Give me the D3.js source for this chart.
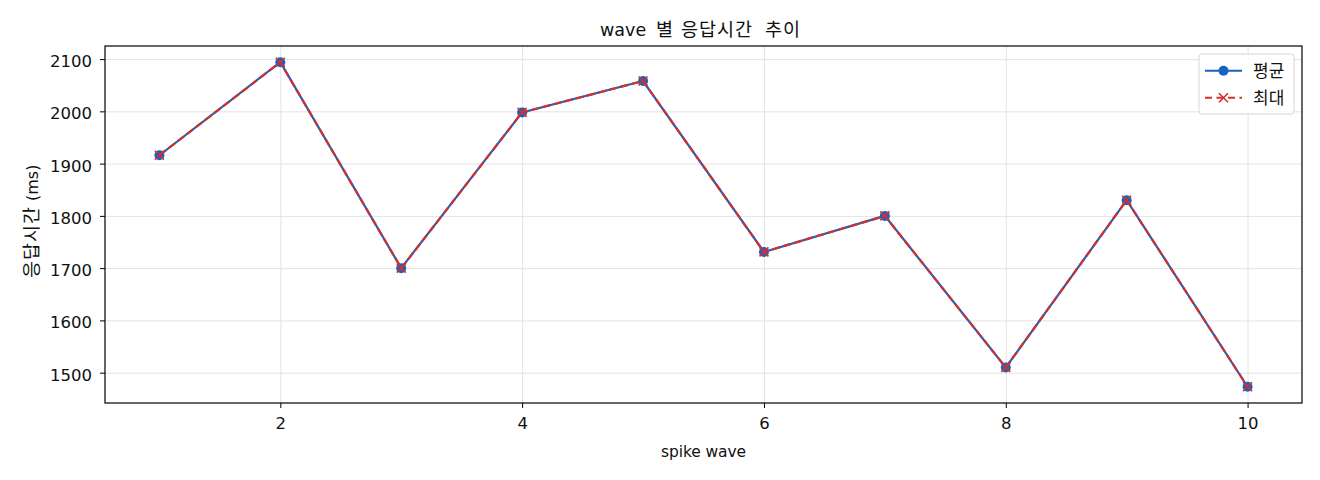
<!DOCTYPE html>
<html>
<head>
<meta charset="utf-8">
<script src="https://cdn.jsdelivr.net/npm/d3@7"></script>
<style>
  body { margin: 0; background: #fff; }
  text { font-family: "DejaVu Sans", "Noto Sans CJK KR", sans-serif; fill: #111; }
  .kr { font-family: "Noto Sans CJK KR", "DejaVu Sans", sans-serif; }
</style>
</head>
<body>
<svg id="chart" width="1320" height="480"></svg>
<script>
// wave numbers on the x axis
const waves = [1, 2, 3, 4, 5, 6, 7, 8, 9, 10];
// average and max response time per wave (ms)
const avgMs = [1916, 2094, 1700, 1998, 2058, 1731, 1800, 1510, 1830, 1473];
const maxMs = [1916, 2094, 1700, 1998, 2058, 1731, 1800, 1510, 1830, 1473];
const xTicks = [2, 4, 6, 8, 10];
const yTicks = [1500, 1600, 1700, 1800, 1900, 2000, 2100];
const seriesNames = ['평균', '최대'];

const blue = '#1565c0';
const red = '#d32f2f';

const margin = {left: 105, top: 46, right: 18, bottom: 77};
const width = 1320, height = 480;

const svg = d3.select('#chart');

// matplotlib style 5% padding on both axes
const allVals = avgMs.concat(maxMs);
const yMin = d3.min(allVals), yMax = d3.max(allVals);
const yPad = (yMax - yMin) * 0.05;
const xPad = (d3.max(waves) - d3.min(waves)) * 0.05;

const x = d3.scaleLinear()
    .domain([d3.min(waves) - xPad, d3.max(waves) + xPad])
    .range([margin.left, width - margin.right]);
const y = d3.scaleLinear()
    .domain([yMin - yPad, yMax + yPad])
    .range([height - margin.bottom, margin.top]);

const plotW = width - margin.left - margin.right;
const plotH = height - margin.top - margin.bottom;

// grid
svg.append('g')
    .attr('transform', 'translate(0,' + (height - margin.bottom) + ')')
    .call(d3.axisBottom(x).tickValues(xTicks).tickSize(-plotH).tickFormat(''))
    .call(g => g.select('.domain').remove())
    .call(g => g.selectAll('line').attr('stroke', '#e3e3e3').attr('stroke-width', 1));
svg.append('g')
    .attr('transform', 'translate(' + margin.left + ',0)')
    .call(d3.axisLeft(y).tickValues(yTicks).tickSize(-plotW).tickFormat(''))
    .call(g => g.select('.domain').remove())
    .call(g => g.selectAll('line').attr('stroke', '#e3e3e3').attr('stroke-width', 1));

// axes
const xAxis = svg.append('g')
    .attr('transform', 'translate(0,' + (height - margin.bottom) + ')')
    .call(d3.axisBottom(x).tickValues(xTicks).tickSize(5).tickFormat(d3.format('d')));
const yAxis = svg.append('g')
    .attr('transform', 'translate(' + margin.left + ',0)')
    .call(d3.axisLeft(y).tickValues(yTicks).tickSize(5).tickFormat(d3.format('d')));
[xAxis, yAxis].forEach(a => {
    a.select('.domain').remove();
    a.selectAll('line').attr('stroke', '#000').attr('stroke-width', 1);
    a.selectAll('text').style('font-size', '16.5px').style('font-family', '"DejaVu Sans"')
        .attr('fill', '#222');
});
xAxis.selectAll('text').attr('y', 26).attr('dy', 0);
yAxis.selectAll('text').attr('x', -13).attr('dy', '0.46em');

// frame
svg.append('rect')
    .attr('x', margin.left).attr('y', margin.top)
    .attr('width', plotW).attr('height', plotH)
    .attr('fill', 'none').attr('stroke', '#000').attr('stroke-width', 1.2);

const line = d3.line().x((d, i) => x(waves[i])).y(d => y(d));

// average: solid line with circles
svg.append('path').datum(avgMs)
    .attr('d', line).attr('fill', 'none')
    .attr('stroke', blue).attr('stroke-width', 2.2);
svg.append('g').selectAll('circle').data(avgMs).enter().append('circle')
    .attr('cx', (d, i) => x(waves[i])).attr('cy', d => y(d))
    .attr('r', 5).attr('fill', blue);

// max: dashed line with x markers
svg.append('path').datum(maxMs)
    .attr('d', line).attr('fill', 'none')
    .attr('stroke', red).attr('stroke-width', 2.2)
    .attr('stroke-dasharray', '8,3.5');
const cross = (g, cx, cy, s) => {
    g.append('path')
        .attr('d', 'M' + (cx - s) + ',' + (cy - s) + 'L' + (cx + s) + ',' + (cy + s) +
                   'M' + (cx - s) + ',' + (cy + s) + 'L' + (cx + s) + ',' + (cy - s))
        .attr('stroke', red).attr('stroke-width', 1.6).attr('fill', 'none');
};
const xm = svg.append('g');
maxMs.forEach((d, i) => cross(xm, x(waves[i]), y(d), 4.5));

// titles (words placed one by one, the original font has wide spaces)
const title = svg.append('text').attr('y', 36).style('font-size', '17.5px');
title.append('tspan').attr('x', 600).text('wave');
[['별', 656], ['응답시간', 681], ['추이', 765]].forEach(w => {
    title.append('tspan').attr('class', 'kr').attr('x', w[1])
        .style('font-size', '18.5px').style('letter-spacing', '1px').text(w[0]);
});

svg.append('text')
    .attr('x', 661).attr('y', 457)
    .attr('textLength', 85).attr('lengthAdjust', 'spacing')
    .style('font-size', '15.5px')
    .text('spike wave');

const yl = svg.append('text')
    .attr('transform', 'translate(38,278) rotate(-90)');
yl.append('tspan').attr('class', 'kr').style('font-size', '18.5px')
    .style('letter-spacing', '1px').text('응답시간');
yl.append('tspan').attr('x', 77).style('font-size', '16px').text('(ms)');

// legend
const lg = svg.append('g').attr('transform', 'translate(1199,54)');
lg.append('rect')
    .attr('width', 95).attr('height', 60).attr('rx', 3)
    .attr('fill', 'rgba(255,255,255,0.85)').attr('stroke', '#d6d6d6');
lg.append('line').attr('x1', 6).attr('x2', 43).attr('y1', 16.7).attr('y2', 16.7)
    .attr('stroke', blue).attr('stroke-width', 2);
lg.append('circle').attr('cx', 24.5).attr('cy', 16.7).attr('r', 5).attr('fill', blue);
lg.append('line').attr('x1', 6).attr('x2', 43).attr('y1', 43.7).attr('y2', 43.7)
    .attr('stroke', red).attr('stroke-width', 2).attr('stroke-dasharray', '7,4.5');
cross(lg, 24.5, 43.7, 4.5);
lg.selectAll('text.lbl').data(seriesNames).enter().append('text')
    .attr('class', 'lbl kr')
    .attr('x', 54).attr('y', (d, i) => 23 + i * 27)
    .style('font-size', '17px')
    .text(d => d);
</script>
</body>
</html>
